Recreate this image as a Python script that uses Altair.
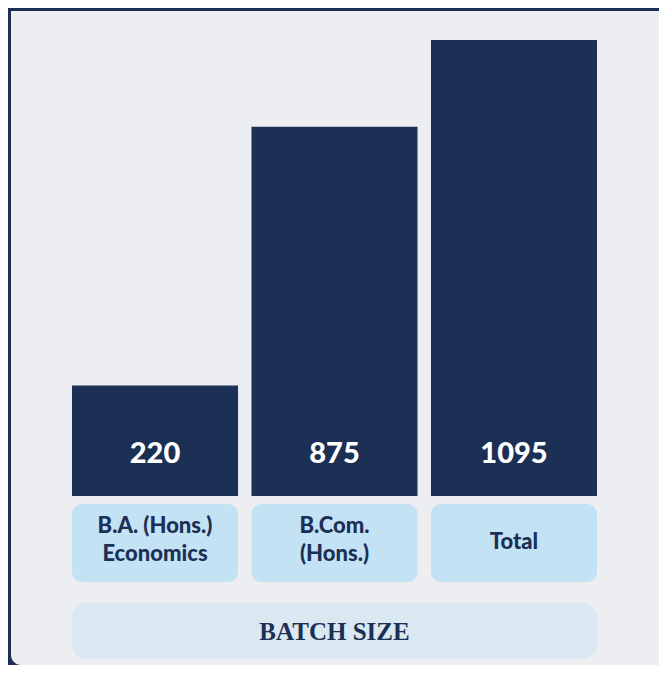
import altair as alt
import pandas as pd

categories = ["B.A. (Hons.)\nEconomics", "B.Com.\n(Hons.)", "Total"]
keys = ["ba", "bcom", "total"]
line_counts = [2, 2, 1]
values = [220, 875, 1095]
value_labels = ["220", "875", "1095"]
axis_title = "BATCH SIZE"

NAVY = "#1c2f55"
PANEL = "#eceef2"
LABEL_BOX = "#c3e3f5"
TITLE_BOX = "#d9e8f1"
Y_BASE = -60

df = pd.DataFrame({"key": keys, "cat": categories, "value": values,
                   "vlabel": value_labels, "lines": line_counts})
one = pd.DataFrame({"t": [axis_title]})

W, H = 651, 657

xscale = alt.Scale(domain=keys, range=[64, 589], paddingInner=0.075, paddingOuter=0)
yscale = alt.Scale(domain=[Y_BASE, 1095], range=[488, 32], nice=False, zero=False)
X = alt.X("key:N", scale=xscale, axis=None, sort=keys)

panel = alt.Chart(one).mark_rect(color=PANEL, cornerRadiusBottomLeft=10).encode(
    x=alt.value(3), x2=alt.value(W), y=alt.value(3), y2=alt.value(H)
)

bars = alt.Chart(df).mark_bar(color=NAVY).encode(
    x=X,
    y=alt.Y("value:Q", scale=yscale, axis=None),
    y2=alt.Y2Datum(Y_BASE),
)

vtext = alt.Chart(df).mark_text(
    color="white", font="Lato", fontWeight=900, fontSize=29, baseline="middle", align="center"
).encode(x=X, y=alt.value(446), text="vlabel:N")

lbox = alt.Chart(df).mark_rect(color=LABEL_BOX, cornerRadius=10).encode(
    x=X, y=alt.value(496), y2=alt.value(574)
)

label_style = dict(color=NAVY, font="Lato", fontWeight=900, fontSize=22, baseline="middle",
                   align="center", lineBreak="\n", lineHeight=28)

ltext2 = alt.Chart(df).transform_filter("datum.lines == 2").mark_text(**label_style).encode(
    x=X, y=alt.value(518), text="cat:N")
ltext1 = alt.Chart(df).transform_filter("datum.lines == 1").mark_text(**label_style).encode(
    x=X, y=alt.value(534), text="cat:N")

tbox = alt.Chart(one).mark_rect(color=TITLE_BOX, cornerRadius=14).encode(
    x=alt.value(64), x2=alt.value(589), y=alt.value(595), y2=alt.value(651)
)

ttext = alt.Chart(one).mark_text(
    color=NAVY, font="Liberation Serif", fontWeight="bold", fontSize=25,
    baseline="middle", align="center"
).encode(x=alt.value(326.5), y=alt.value(624), text="t:N")

chart = alt.layer(panel, bars, vtext, lbox, ltext2, ltext1, tbox, ttext).properties(
    width=W, height=H, background=NAVY, padding=0,
    autosize=alt.AutoSizeParams(type="none")
).configure_view(stroke=None)

chart.save("out.html", embed_options={"renderer": "svg", "actions": False})
